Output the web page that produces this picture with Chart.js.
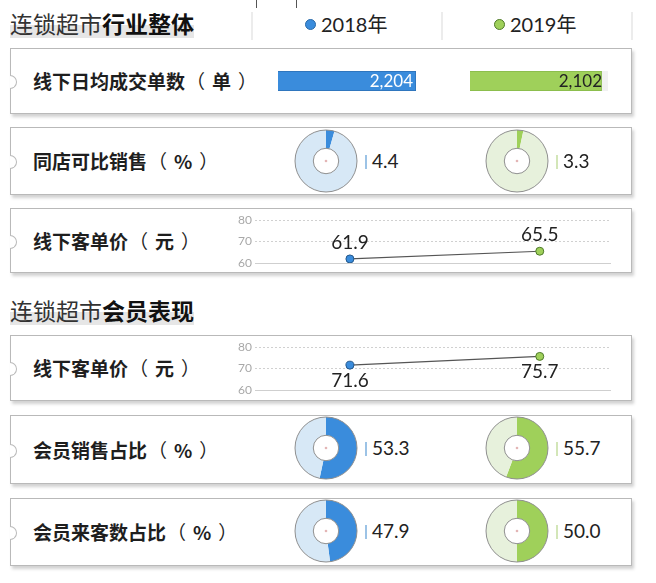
<!DOCTYPE html>
<html>
<head>
<meta charset="utf-8">
<script src="https://cdn.jsdelivr.net/npm/chart.js@4.4.1/dist/chart.umd.min.js"></script>
<style>
  html, body { margin: 0; padding: 0; background: #fff; }
  #page { position: relative; width: 656px; height: 583px; overflow: hidden; font-family: "Noto Sans CJK SC", "Noto Sans", sans-serif; color: #222; }
  .abs { position: absolute; }
  .title { font-size: 23px; color: #333; line-height: 30px; white-space: nowrap;
           background: linear-gradient(to bottom, transparent 58%, #e6e6e6 58%, #e6e6e6 100%); }
  .title b { color: #111; font-weight: 700; }
  .sep { width: 2px; background: #ececec; }
  .legend { font-size: 20px; line-height: 24px; color: #222; white-space: nowrap; font-family: Lato, "Noto Sans CJK SC", sans-serif; }
  .legend .dot { display: inline-block; width: 9px; height: 9px; border-radius: 50%; margin-right: 5px; vertical-align: 2px; }
  .panel { background: #fff; border: 1px solid #b9b9b9; box-shadow: 2px 3px 3px rgba(0,0,0,0.18); box-sizing: border-box; }
  .notch { position: absolute; left: -1px; width: 6px; height: 12px; margin-top: -6px; top: 50%;
           border: 1px solid #b9b9b9; border-left: none; border-radius: 0 7px 7px 0; background: #fff; }
  .label { font-size: 19px; font-weight: 600; color: #1e1e1e; white-space: nowrap; line-height: 24px; }
  .label .po { display: inline-block; margin: 0 7px 0 1px; font-weight: 400; }
  .label .pc { display: inline-block; margin-left: 7px; font-weight: 400; }
  .val { font-family: Lato, "Open Sans", sans-serif; font-size: 19px; color: #222; white-space: nowrap; line-height: 22px; }
  .val i { display: inline-block; width: 2px; height: 14px; margin-right: 5px; vertical-align: -1px; }
  .barval { font-family: Lato, "Open Sans", sans-serif; font-size: 17px; line-height: 19px; text-align: right; white-space: nowrap; }
</style>
</head>
<body>
<div id="page"></div>
<script>
// --- DATA ---
const years = ['2018年', '2019年'];
const yearColors = ['#3a8cdc', '#9fd05a'];
const yearLight = ['#d7e8f6', '#e7f1dc'];

const orderLabel = '线下日均成交单数（单）';
const orderValues = [2204, 2102];

const sameStoreLabel = '同店可比销售（%）';
const sameStoreValues = [4.4, 3.3];

const priceLabel = '线下客单价（元）';
const priceValues = [61.9, 65.5];
const memberPriceValues = [71.6, 75.7];
const priceTicks = [60, 70, 80];

const memberSalesLabel = '会员销售占比（%）';
const memberSalesValues = [53.3, 55.7];

const memberVisitLabel = '会员来客数占比（%）';
const memberVisitValues = [47.9, 50.0];

// --- LAYOUT (page coordinates) ---
const page = document.getElementById('page');
const colX = [326, 517];      // donut centres
const lineX = [2018, 2019];

function el(tag, cls, css, html) {
  const d = document.createElement(tag);
  if (cls) d.className = cls;
  Object.assign(d.style, css || {});
  if (html !== undefined) d.innerHTML = html;
  page.appendChild(d);
  return d;
}

function panel(top, height, label) {
  const p = el('div', 'abs panel', { left: '10px', top: top + 'px', width: '622px', height: height + 'px' });
  const n = document.createElement('div');
  n.className = 'notch';
  p.appendChild(n);
  const txt = label.replace('（', '<span class="po">（</span>').replace('）', '<span class="pc">）</span>');
  el('div', 'abs label', { left: '33px', top: (top + height / 2 - 12) + 'px' }, txt);
}

function canvasAt(x, y, w, h) {
  const wrap = el('div', 'abs', { left: x + 'px', top: y + 'px', width: w + 'px', height: h + 'px' });
  const c = document.createElement('canvas');
  wrap.appendChild(c);
  return c;
}

// header bits
el('div', 'abs', { left: '256px', top: '0px', width: '1px', height: '8px', background: '#555' });
el('div', 'abs', { left: '296px', top: '0px', width: '1px', height: '8px', background: '#555' });
el('div', 'abs title', { left: '10px', top: '8px' }, '连锁超市<b>行业整体</b>');
el('div', 'abs title', { left: '10px', top: '295px' }, '连锁超市<b>会员表现</b>');
[251, 441, 631].forEach(x => el('div', 'abs sep', { left: x + 'px', top: '12px', height: '28px' }));
el('div', 'abs legend', { left: '305px', top: '12px' },
   `<span class="dot" style="background:${yearColors[0]};border:1px solid #2a6aa8"></span>${years[0]}`);
el('div', 'abs legend', { left: '494px', top: '12px' },
   `<span class="dot" style="background:${yearColors[1]};border:1px solid #4f7a2a"></span>${years[1]}`);

// panels
panel(48, 66, orderLabel);
panel(127, 68, sameStoreLabel);
panel(208, 65, priceLabel);
panel(335, 66, priceLabel);
panel(415, 69, memberSalesLabel);
panel(498, 68, memberVisitLabel);

// --- BARS ---
const barMax = Math.max(...orderValues);
const barX = [278, 470];
orderValues.forEach((v, i) => {
  const c = canvasAt(barX[i], 71, 138, 20);
  new Chart(c, {
    type: 'bar',
    data: {
      labels: [years[i]],
      datasets: [
        { data: [v], backgroundColor: yearColors[i], borderColor: i ? '#86b94a' : '#2c6fb4', borderWidth: 1, barPercentage: 1, categoryPercentage: 1, stack: 's' },
        { data: [barMax - v], backgroundColor: '#f1f1f1', borderWidth: 0, barPercentage: 1, categoryPercentage: 1, stack: 's' }
      ]
    },
    options: {
      indexAxis: 'y', animation: false, responsive: true, maintainAspectRatio: false,
      layout: { padding: 0 },
      plugins: { legend: { display: false }, tooltip: { enabled: false } },
      scales: {
        x: { display: false, stacked: true, min: 0, max: barMax },
        y: { display: false, stacked: true }
      }
    }
  });
  el('div', 'abs barval', { left: (barX[i]) + 'px', top: '71px', width: (i ? 132 : 135) + 'px',
     color: i ? '#222' : '#fff' }, v.toLocaleString('en-US'));
});

// --- DONUTS ---
const ringPlugin = {
  id: 'ring',
  afterDraw(chart) {
    const arc = chart.getDatasetMeta(0).data[0];
    if (!arc) return;
    const ctx = chart.ctx;
    ctx.save();
    ctx.strokeStyle = '#8f8f8f';
    ctx.lineWidth = 1;
    ctx.beginPath(); ctx.arc(arc.x, arc.y, arc.outerRadius, 0, Math.PI * 2); ctx.stroke();
    ctx.beginPath(); ctx.arc(arc.x, arc.y, arc.innerRadius, 0, Math.PI * 2); ctx.stroke();
    ctx.fillStyle = '#e3b5b5';
    ctx.beginPath(); ctx.arc(arc.x, arc.y, 1.3, 0, Math.PI * 2); ctx.fill();
    ctx.restore();
  }
};

function donutRow(cy, values) {
  values.forEach((v, i) => {
    const c = canvasAt(colX[i] - 32, cy - 32, 64, 64);
    new Chart(c, {
      type: 'doughnut',
      data: { labels: ['v', 'rest'], datasets: [{ data: [v, 100 - v], backgroundColor: [yearColors[i], yearLight[i]], borderWidth: 0 }] },
      options: {
        animation: false, responsive: true, maintainAspectRatio: false, cutout: '41%',
        layout: { padding: 1 },
        plugins: { legend: { display: false }, tooltip: { enabled: false } }
      },
      plugins: [ringPlugin]
    });
    el('div', 'abs val', { left: (colX[i] + 39) + 'px', top: (cy - 11) + 'px' },
       `<i style="background:${i ? '#d3e6b8' : '#9cc3e6'}"></i>${v.toFixed(1)}`);
  });
}
donutRow(161, sameStoreValues);
donutRow(448, memberSalesValues);
donutRow(531, memberVisitValues);

// --- LINES ---
const pointLabelPlugin = {
  id: 'pointLabels',
  afterDatasetsDraw(chart, args, opts) {
    const ctx = chart.ctx;
    const ds = chart.data.datasets[0];
    chart.getDatasetMeta(0).data.forEach((pt, i) => {
      ctx.save();
      ctx.font = '19px Lato, "Open Sans", sans-serif';
      ctx.fillStyle = '#222';
      ctx.textAlign = 'center';
      ctx.textBaseline = opts.below ? 'top' : 'bottom';
      ctx.fillText(ds.data[i].y.toFixed(1), pt.x, opts.below ? pt.y + 6 : pt.y - 7);
      ctx.restore();
    });
  }
};

function lineRow(top, values, below) {
  const c = canvasAt(222, top, 393, 65);
  new Chart(c, {
    type: 'line',
    data: {
      datasets: [{
        data: values.map((v, i) => ({ x: lineX[i], y: v })),
        borderColor: '#555', borderWidth: 1.2,
        pointBackgroundColor: yearColors, pointBorderColor: ['#24578a', '#4e7a2a'],
        pointRadius: 4, pointBorderWidth: 1
      }]
    },
    options: {
      animation: false, responsive: true, maintainAspectRatio: false,
      layout: { padding: { top: 10, bottom: 4, left: 0, right: 0 } },
      plugins: { legend: { display: false }, tooltip: { enabled: false }, pointLabels: { below } },
      scales: {
        x: { type: 'linear', min: 2017.5, max: 2019.37, display: true,
             ticks: { display: false }, grid: { display: false },
             border: { display: true, color: '#cfcfcf', width: 1 } },
        y: { min: priceTicks[0], max: priceTicks[priceTicks.length - 1],
             afterBuildTicks: s => { s.ticks = priceTicks.map(v => ({ value: v })); },
             afterFit: s => { s.width = 33; },
             ticks: { color: '#a8a8a8', font: { family: 'Lato', size: 12 }, padding: 3 },
             grid: { color: '#d0d0d0', drawTicks: false },
             border: { display: false, dash: [2, 2] } }
      }
    },
    plugins: [pointLabelPlugin]
  });
}
lineRow(210, priceValues, false);
lineRow(337, memberPriceValues, true);
</script>
</body>
</html>
